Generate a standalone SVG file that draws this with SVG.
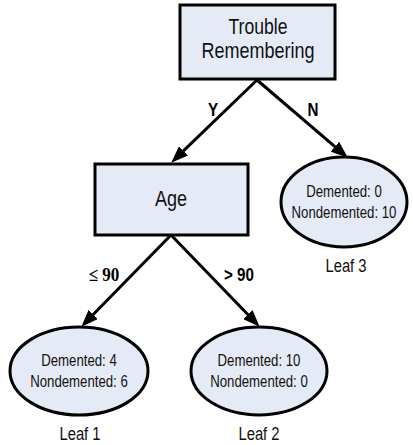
<svg xmlns="http://www.w3.org/2000/svg" width="413" height="445" viewBox="0 0 413 445">
<style>
.box{fill:#e5ebf6;stroke:#000;stroke-width:3}
.t{font-family:"Liberation Sans",Arial,sans-serif;fill:#111;text-anchor:middle}
.big{font-size:22px}
.small{font-size:16.5px}
.lbl{font-size:19px}
.edge{font-family:"Liberation Sans",Arial,sans-serif;font-weight:bold;font-size:19px;fill:#000;text-anchor:middle}
.edgeS{font-family:"Liberation Serif","Times New Roman",serif;font-weight:bold;font-size:19px;fill:#000;text-anchor:middle}
.c{stroke:#000;stroke-width:3;fill:none;marker-end:url(#ah)}
</style>
<defs>
<marker id="ah" markerUnits="userSpaceOnUse" markerWidth="17" markerHeight="13" viewBox="0 0 17 13" refX="8" refY="6.5" orient="auto">
<path d="M0,0 L17,6.5 L0,13 z" fill="#000"/>
</marker>
</defs>
<rect width="413" height="445" fill="#fff"/>
<g id="connectors">
<line class="c" x1="257" y1="80" x2="177.7" y2="156.4"/>
<line class="c" x1="257" y1="80" x2="341" y2="151.8"/>
<line class="c" x1="171" y1="235" x2="87.6" y2="320.3"/>
<line class="c" x1="171" y1="235" x2="253.4" y2="320.3"/>
<text class="edge" transform="translate(213,116) scale(0.8,1)">Y</text>
<text class="edge" transform="translate(313,116) scale(0.8,1)">N</text>
<text class="edgeS" transform="translate(104,281) scale(0.9,1)">≤ 90</text>
<text class="edge" transform="translate(239,281) scale(0.8,1)">&gt; 90</text>
</g>
<g id="trouble">
<rect class="box" x="180" y="5" width="155" height="74"/>
<text class="t big" transform="translate(258,34) scale(0.8,1)">Trouble</text>
<text class="t big" transform="translate(258,58) scale(0.82,1)">Remembering</text>
</g>
<g id="age">
<rect class="box" x="95" y="164" width="153" height="71"/>
<text class="t big" transform="translate(171,206) scale(0.82,1)">Age</text>
</g>
<g id="leaf3">
<ellipse class="box" cx="344" cy="202" rx="63" ry="45"/>
<text class="t small" transform="translate(344,197) scale(0.8,1)">Demented: 0</text>
<text class="t small" transform="translate(344,218) scale(0.8,1)">Nondemented: 10</text>
<text class="t lbl" transform="translate(346,272) scale(0.78,1)">Leaf 3</text>
</g>
<g id="leaf1">
<ellipse class="box" cx="79" cy="371" rx="69" ry="44"/>
<text class="t small" transform="translate(79,366) scale(0.8,1)">Demented: 4</text>
<text class="t small" transform="translate(79,387) scale(0.8,1)">Nondemented: 6</text>
<text class="t lbl" transform="translate(80,440) scale(0.78,1)">Leaf 1</text>
</g>
<g id="leaf2">
<ellipse class="box" cx="259" cy="371" rx="68" ry="44"/>
<text class="t small" transform="translate(259,366) scale(0.8,1)">Demented: 10</text>
<text class="t small" transform="translate(259,387) scale(0.8,1)">Nondemented: 0</text>
<text class="t lbl" transform="translate(259,440) scale(0.78,1)">Leaf 2</text>
</g>
</svg>
